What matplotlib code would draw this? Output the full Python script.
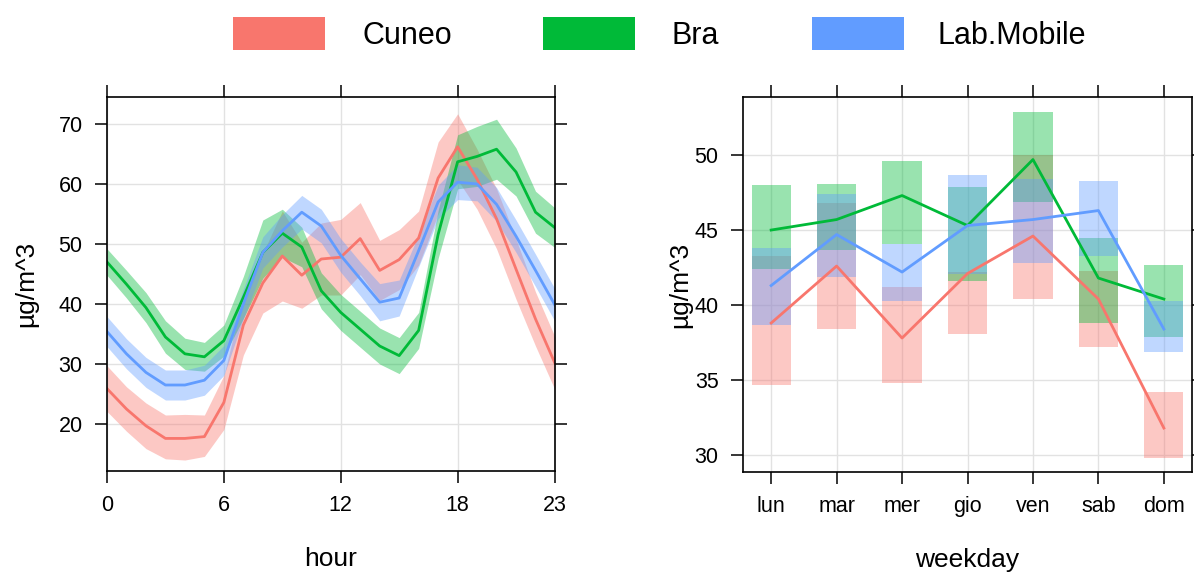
import numpy as np
import matplotlib
matplotlib.use("Agg")
import matplotlib.pyplot as plt
from matplotlib.patches import Rectangle

plt.rcParams['font.family'] = ['Liberation Sans', 'DejaVu Sans']

# colori dei gruppi
sites = ['Cuneo', 'Bra', 'Lab.Mobile']
colori = ['#F8766D', '#00BA38', '#619CFF']

# --- profilo orario ---
hours = list(range(24))

cuneo_h = [25.9, 22.5, 19.7, 17.6, 17.6, 17.9, 23.6, 36.5, 43.5, 48.0, 44.8, 47.5,
           47.8, 50.9, 45.6, 47.4, 51.0, 61.0, 66.2, 60.8, 54.2, 45.8, 37.5, 30.1]
cuneo_h_lo = [22.1, 18.8, 15.9, 14.2, 14.0, 14.6, 19.1, 31.5, 38.5, 40.5, 39.3, 41.5,
              41.5, 44.9, 40.6, 42.4, 46.5, 55.0, 60.7, 55.8, 49.2, 40.8, 33.0, 25.7]
cuneo_h_hi = [29.7, 26.2, 23.5, 21.5, 21.6, 21.5, 28.1, 41.5, 48.5, 55.5, 50.3, 53.5,
              54.1, 56.9, 50.6, 52.4, 55.5, 67.0, 71.7, 65.8, 59.2, 50.8, 42.0, 34.5]

bra_h = [47.0, 43.3, 39.4, 34.5, 31.7, 31.2, 33.9, 41.1, 48.6, 51.8, 49.5, 42.2,
         38.6, 35.8, 33.0, 31.4, 35.6, 51.6, 63.7, 64.6, 65.8, 62.0, 55.3, 52.7]
bra_h_lo = [44.8, 41.0, 36.9, 31.8, 29.1, 28.8, 31.3, 37.6, 44.3, 47.8, 46.2, 39.2,
            35.6, 32.8, 30.0, 28.4, 32.6, 47.6, 59.2, 59.6, 60.8, 58.0, 51.8, 49.4]
bra_h_hi = [49.2, 45.6, 41.9, 37.2, 34.3, 33.6, 36.5, 44.6, 54.0, 55.8, 52.8, 45.2,
            41.6, 38.8, 36.0, 34.4, 38.6, 55.6, 68.2, 69.6, 70.8, 66.0, 58.8, 56.0]

lab_h = [35.4, 31.7, 28.6, 26.5, 26.5, 27.3, 30.6, 40.0, 48.6, 52.2, 55.3, 53.0,
         48.1, 44.2, 40.3, 41.0, 48.9, 57.0, 60.3, 60.0, 56.6, 51.3, 45.6, 39.8]
lab_h_lo = [32.9, 29.2, 26.1, 24.0, 24.0, 24.8, 28.1, 37.5, 46.0, 49.5, 52.5, 50.2,
            45.3, 41.4, 37.2, 38.0, 46.2, 54.2, 57.4, 57.2, 53.8, 48.6, 42.9, 37.1]
lab_h_hi = [37.9, 34.2, 31.1, 29.0, 29.0, 29.8, 33.1, 42.5, 51.2, 54.9, 58.1, 55.8,
            50.9, 47.0, 43.4, 44.0, 51.6, 59.8, 63.2, 62.8, 59.4, 54.0, 48.3, 42.5]

# --- profilo settimanale ---
giorni = ['lun', 'mar', 'mer', 'gio', 'ven', 'sab', 'dom']

cuneo_w = [38.8, 42.6, 37.8, 42.1, 44.6, 40.4, 31.8]
cuneo_w_lo = [34.7, 38.4, 34.8, 38.1, 40.4, 37.2, 29.8]
cuneo_w_hi = [43.3, 46.8, 41.2, 42.2, 50.0, 42.3, 34.2]

bra_w = [45.0, 45.7, 47.3, 45.3, 49.7, 41.8, 40.4]
bra_w_lo = [42.4, 43.7, 44.1, 41.6, 46.9, 38.8, 37.9]
bra_w_hi = [48.0, 48.1, 49.6, 47.9, 52.9, 44.5, 42.7]

lab_w = [41.3, 44.7, 42.2, 45.3, 45.7, 46.3, 38.4]
lab_w_lo = [38.7, 41.9, 40.3, 42.1, 42.8, 43.3, 36.9]
lab_w_hi = [43.8, 47.4, 44.1, 48.7, 48.4, 48.3, 40.3]

orari = [(cuneo_h, cuneo_h_lo, cuneo_h_hi), (bra_h, bra_h_lo, bra_h_hi), (lab_h, lab_h_lo, lab_h_hi)]
settimana = [(cuneo_w, cuneo_w_lo, cuneo_w_hi), (bra_w, bra_w_lo, bra_w_hi), (lab_w, lab_w_lo, lab_w_hi)]

fig = plt.figure(figsize=(11.94, 5.72), dpi=100)
ax1 = fig.add_axes([107/1194, 101/572, 448/1194, 374/572])
ax2 = fig.add_axes([743/1194, 100/572, 449/1194, 375/572])


def stile(ax):
    for s in ax.spines.values():
        s.set_linewidth(1.2)
        s.set_color('black')
    ax.tick_params(direction='out', length=8.6, width=1.1, top=True, right=True,
                   labeltop=False, labelright=False, labelsize=15.5, pad=9)
    ax.grid(True, color='#E2E2E2', linewidth=1.0)
    ax.set_axisbelow(True)


# pannello orario
for (m, lo, hi), c in zip(orari, colori):
    ax1.fill_between(hours, lo, hi, color=c, alpha=0.4, linewidth=0)
    ax1.plot(hours, m, color=c, linewidth=2.0)
ax1.set_xlim(0, 23)
ax1.set_ylim(12.17, 74.5)
ax1.set_xticks([0, 6, 12, 18, 23])
ax1.set_yticks([20, 30, 40, 50, 60, 70])
stile(ax1)
ax1.set_xlabel('hour', fontsize=19)
ax1.set_ylabel('µg/m^3', fontsize=19)
ax1.xaxis.label.set_va('center')
ax1.yaxis.label.set_va('center')
ax1.xaxis.set_label_coords(0.5, -0.235)
ax1.yaxis.set_label_coords(-0.181, 0.5)

# pannello settimanale
xpos = np.arange(len(giorni))
larg = 0.6
for (m, lo, hi), c in zip(settimana, colori):
    ax2.bar(xpos, np.array(hi) - np.array(lo), bottom=lo, width=larg,
            color=c, alpha=0.4, linewidth=0)
    ax2.plot(xpos, m, color=c, linewidth=2.0)
ax2.set_xlim(-0.43, 6.43)
ax2.set_ylim(28.87, 53.87)
ax2.set_xticks(xpos)
ax2.set_xticklabels(giorni)
ax2.set_yticks([30, 35, 40, 45, 50])
stile(ax2)
ax2.set_xlabel('weekday', fontsize=19)
ax2.set_ylabel('µg/m^3', fontsize=19)
ax2.xaxis.label.set_va('center')
ax2.yaxis.label.set_va('center')
ax2.xaxis.set_label_coords(0.5, -0.235)
ax2.yaxis.set_label_coords(-0.139, 0.5)

# legenda in alto
rect_x = [233, 543, 812]
text_x = [362, 672, 937]
for nome, c, rx, tx in zip(sites, colori, rect_x, text_x):
    fig.patches.append(Rectangle((rx/1194, 1 - 50/572), 92/1194, 33/572,
                                 transform=fig.transFigure, color=c, linewidth=0))
    fig.text(tx/1194, 1 - 36/572, nome, fontsize=22, va='center', ha='left')

fig.savefig('out.png', dpi=100)
